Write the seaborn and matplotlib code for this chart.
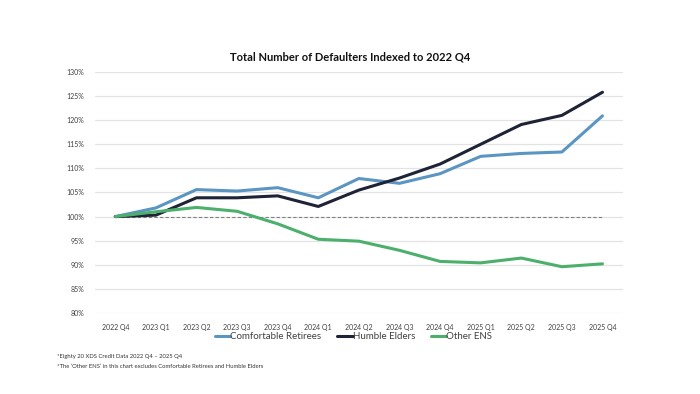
import numpy as np
import pandas as pd
import matplotlib
matplotlib.use("Agg")
import matplotlib.pyplot as plt
import seaborn as sns

quarters = ["2022 Q4", "2023 Q1", "2023 Q2", "2023 Q3", "2023 Q4", "2024 Q1", "2024 Q2",
            "2024 Q3", "2024 Q4", "2025 Q1", "2025 Q2", "2025 Q3", "2025 Q4"]
comfortable = [100.0, 101.8, 105.6, 105.3, 106.0, 103.9, 107.9, 106.9, 108.9, 112.5, 113.1, 113.4, 120.9]
humble = [100.0, 100.3, 103.9, 103.9, 104.3, 102.1, 105.5, 108.0, 110.9, 115.0, 119.1, 121.0, 125.8]
other_ens = [100.0, 101.0, 101.9, 101.1, 98.5, 95.3, 94.9, 93.0, 90.7, 90.4, 91.4, 89.6, 90.2]
baseline = [100.0] * len(quarters)

series_names = ["Comfortable Retirees", "Humble Elders", "Other ENS"]
colors = {"Comfortable Retirees": "#5b95c2", "Humble Elders": "#1e2335", "Other ENS": "#4cb06c"}

df = pd.DataFrame({
    "quarter": quarters * 3,
    "value": comfortable + humble + other_ens,
    "series": np.repeat(series_names, len(quarters)),
})

sns.set_style("white")
plt.rcParams["font.family"] = ["Lato", "DejaVu Sans"]

fig = plt.figure(figsize=(7, 3.94), dpi=100)
ax = fig.add_axes([0.1357, 0.2056, 0.754, 0.6117])

# dashed 100% reference line
ax.plot(quarters, baseline, color="#7f7f7f", linestyle=(0, (3, 2)), linewidth=0.8, zorder=1)
sns.lineplot(data=df, x="quarter", y="value", hue="series", palette=colors,
             linewidth=2.2, ax=ax, legend=False, sort=False, zorder=3)

ax.set_ylim(80, 130)
ax.set_xlim(-0.5, 12.5)
ax.set_yticks(np.arange(80, 131, 5))
ax.set_yticklabels([f"{v}%" for v in range(80, 131, 5)])
ax.grid(axis="y", color="#e3e3e3", linewidth=0.9)
ax.grid(axis="x", visible=False)
for s in ax.spines.values():
    s.set_visible(False)
ax.tick_params(axis="both", labelsize=5, colors="#404040", length=0, pad=8)
ax.set_xlabel("")
ax.set_ylabel("")

fig.text(0.5, 0.855, "Total Number of Defaulters Indexed to 2022 Q4",
         ha="center", va="center", fontsize=8, fontweight="bold", color="#111111")

handles = [plt.Line2D([], [], color=colors[n], linewidth=2.2) for n in series_names]
fig.legend(handles, series_names, loc="center", bbox_to_anchor=(0.505, 0.145), ncol=3,
           frameon=False, fontsize=7, handlelength=1.6, handletextpad=0.0,
           columnspacing=1.6, labelcolor="#404040")

fig.text(0.081, 0.094, "*Eighty 20 XDS Credit Data 2022 Q4 \u2013 2025 Q4", fontsize=4.2,
         color="#333333", va="center")
fig.text(0.081, 0.071, "*The \u2018Other ENS\u2019 in this chart excludes Comfortable Retirees and Humble Elders",
         fontsize=4.2, color="#333333", va="center")

fig.savefig("out.png", dpi=100)
